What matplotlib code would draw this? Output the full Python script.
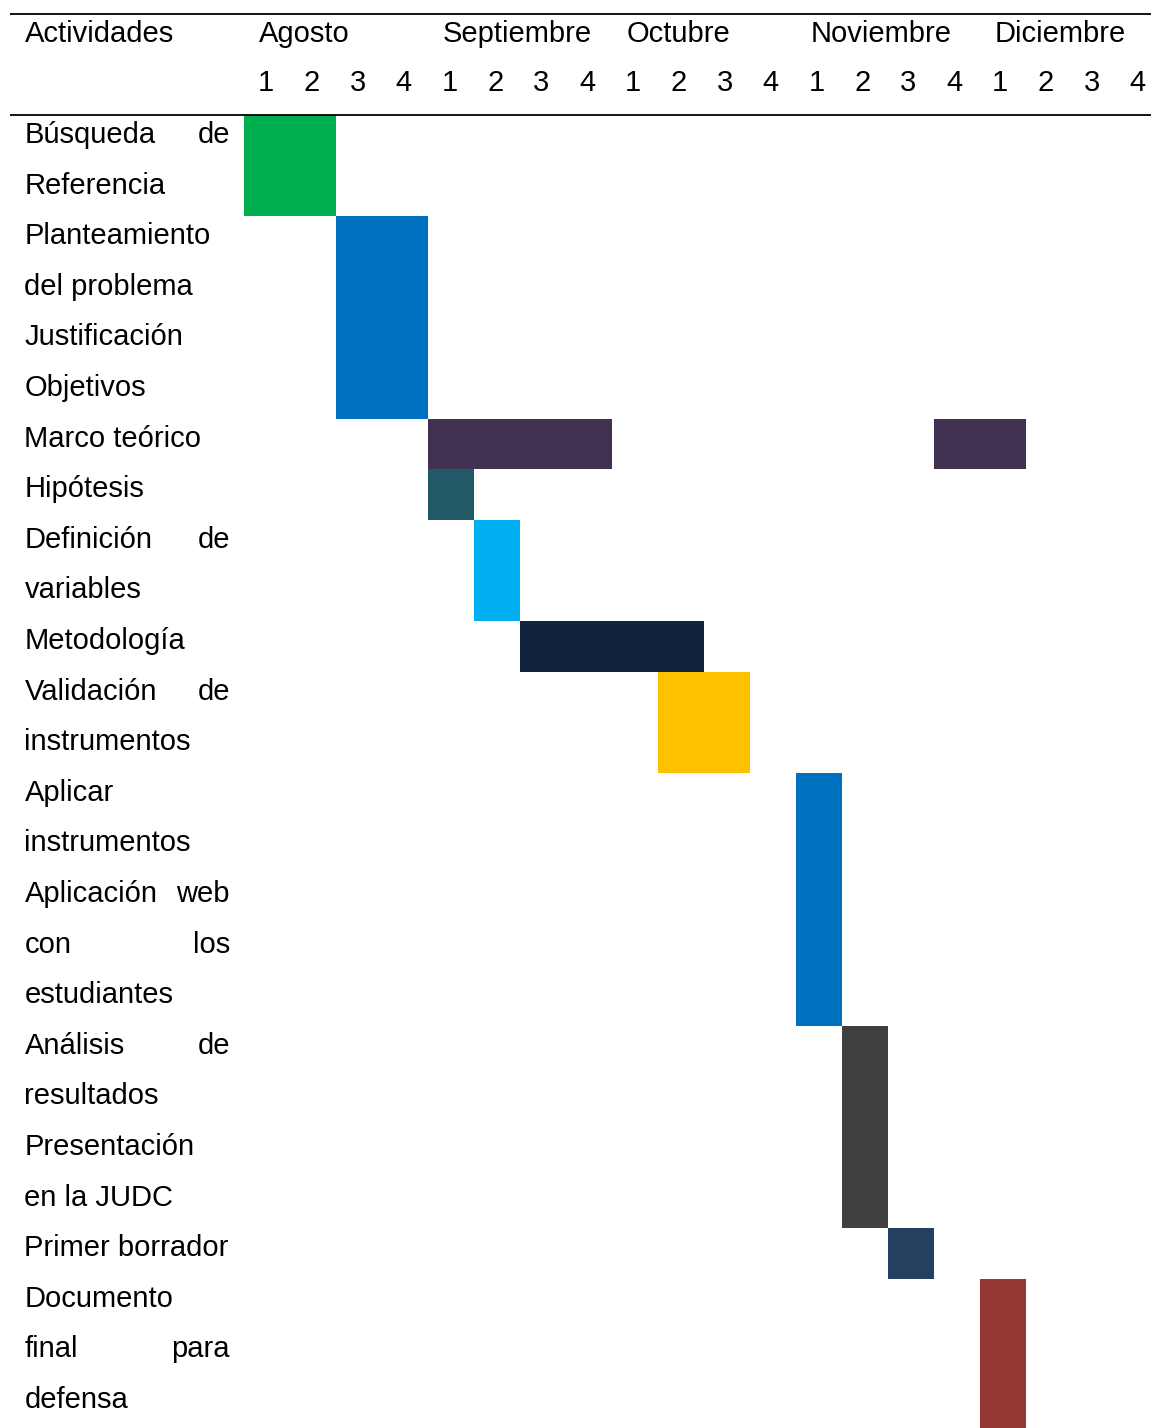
import matplotlib.pyplot as plt

# Activities with the text lines they occupy (left part, right part for justified lines)
activity_lines = [
    [("Búsqueda", "de"), ("Referencia", "")],
    [("Planteamiento", ""), ("del problema", "")],
    [("Justificación", "")],
    [("Objetivos", "")],
    [("Marco teórico", "")],
    [("Hipótesis", "")],
    [("Definición", "de"), ("variables", "")],
    [("Metodología", "")],
    [("Validación", "de"), ("instrumentos", "")],
    [("Aplicar", ""), ("instrumentos", "")],
    [("Aplicación", "web"), ("con", "los"), ("estudiantes", "")],
    [("Análisis", "de"), ("resultados", "")],
    [("Presentación", ""), ("en la JUDC", "")],
    [("Primer borrador", "")],
    [("Documento", ""), ("final", "para"), ("defensa", "")],
]

# (first week index, number of weeks) for each activity, weeks counted from Agosto semana 1
activity_spans = [
    [(0, 2)],
    [(2, 2)],
    [(2, 2)],
    [(2, 2)],
    [(4, 4), (15, 2)],
    [(4, 1)],
    [(5, 1)],
    [(6, 4)],
    [(9, 2)],
    [(12, 1)],
    [(12, 1)],
    [(13, 1)],
    [(13, 1)],
    [(14, 1)],
    [(16, 1)],
]

activity_colors = [
    "#00B050", "#0070C0", "#0070C0", "#0070C0", "#403151", "#215967",
    "#00B0F0", "#10243E", "#FFC000", "#0070C0", "#0070C0", "#404040",
    "#404040", "#243F60", "#953735",
]

months = ["Agosto", "Septiembre", "Octubre", "Noviembre", "Diciembre"]
weeks_per_month = 4
week_labels = ["1", "2", "3", "4"] * len(months)

plt.rcParams['font.family'] = ['Liberation Sans', 'DejaVu Sans']
FS = 21

# grid geometry (pixels): week columns 46 px wide from x=244, text lines 50.6 px high from y=115
X0, CW = 244, 46.0
Y0, LH = 115, 50.6

fig = plt.figure(figsize=(11.51, 14.28), dpi=100)
ax = fig.add_axes([0, 0, 1, 1])
ax.set_xlim(-X0 / CW, (1151 - X0) / CW)
ax.set_ylim((1428 - Y0) / LH, -Y0 / LH)
ax.axis('off')

label_left = (24.5 - X0) / CW
label_right = (230 - X0) / CW
base = 0.553  # baseline offset inside a text line

# header
ax.text(label_left, -2 + base, "Actividades", fontsize=FS, va='baseline', ha='left')
for m, name in enumerate(months):
    ax.text(m * weeks_per_month + 0.32, -2 + base, name, fontsize=FS, va='baseline', ha='left')
for w, lab in enumerate(week_labels):
    ax.text(w * 0.997 + 0.48, -1 + base - 0.03, lab, fontsize=FS, va='baseline', ha='center')

x_line0 = (10 - X0) / CW
ax.plot([x_line0, 30], [-2, -2], color='black', lw=1.3, solid_capstyle='butt')
ax.plot([x_line0, 30], [0, 0], color='black', lw=1.3, solid_capstyle='butt', zorder=3)

# rows
row = 0
for lines, spans, color in zip(activity_lines, activity_spans, activity_colors):
    n = len(lines)
    for k, (left, right) in enumerate(lines):
        y = row + k + base
        ax.text(label_left, y, left, fontsize=FS, va='baseline', ha='left')
        if right:
            ax.text(label_right, y, right, fontsize=FS, va='baseline', ha='right')
    for start, length in spans:
        ax.barh(row + n / 2, length, left=start, height=n, color=color, linewidth=0)
    row += n

fig.savefig('out.png', dpi=100)
